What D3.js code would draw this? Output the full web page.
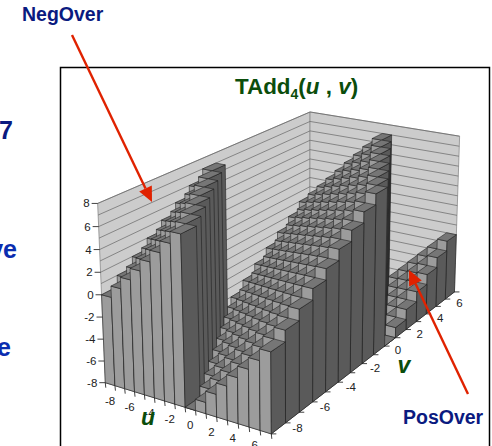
<!DOCTYPE html>
<html><head><meta charset="utf-8">
<script src="https://cdn.jsdelivr.net/npm/d3@7"></script>
<style>html,body{margin:0;padding:0;background:#fff;overflow:hidden}svg{display:block}text{font-family:"Liberation Sans",Arial,sans-serif}</style>
</head><body><div id="c"></div>
<script>
const uCategories=[-8,-7,-6,-5,-4,-3,-2,-1,0,1,2,3,4,5,6,7];
const vCategories=[-8,-7,-6,-5,-4,-3,-2,-1,0,1,2,3,4,5,6,7];
const tadd=[
[0,1,2,3,4,5,6,7,-8,-7,-6,-5,-4,-3,-2,-1],
[1,2,3,4,5,6,7,-8,-7,-6,-5,-4,-3,-2,-1,0],
[2,3,4,5,6,7,-8,-7,-6,-5,-4,-3,-2,-1,0,1],
[3,4,5,6,7,-8,-7,-6,-5,-4,-3,-2,-1,0,1,2],
[4,5,6,7,-8,-7,-6,-5,-4,-3,-2,-1,0,1,2,3],
[5,6,7,-8,-7,-6,-5,-4,-3,-2,-1,0,1,2,3,4],
[6,7,-8,-7,-6,-5,-4,-3,-2,-1,0,1,2,3,4,5],
[7,-8,-7,-6,-5,-4,-3,-2,-1,0,1,2,3,4,5,6],
[-8,-7,-6,-5,-4,-3,-2,-1,0,1,2,3,4,5,6,7],
[-7,-6,-5,-4,-3,-2,-1,0,1,2,3,4,5,6,7,-8],
[-6,-5,-4,-3,-2,-1,0,1,2,3,4,5,6,7,-8,-7],
[-5,-4,-3,-2,-1,0,1,2,3,4,5,6,7,-8,-7,-6],
[-4,-3,-2,-1,0,1,2,3,4,5,6,7,-8,-7,-6,-5],
[-3,-2,-1,0,1,2,3,4,5,6,7,-8,-7,-6,-5,-4],
[-2,-1,0,1,2,3,4,5,6,7,-8,-7,-6,-5,-4,-3],
[-1,0,1,2,3,4,5,6,7,-8,-7,-6,-5,-4,-3,-2]];
const zTicks=[-8,-6,-4,-2,0,2,4,6,8];
const uTickLabels=[-8,-6,-4,-2,0,2,4,6];
const vTickLabels=[-8,-6,-4,-2,0,2,4,6];
const title="TAdd";

const W=492,H=446;
const svg=d3.select("#c").append("svg").attr("width",W).attr("height",H);
const navy="#0a1a80",green="#0b4d0b",red="#e02200";

// camera calibration: cube points -> page pixels (least-squares projective fit)
const calib=[
[[-8,-8,-8],[106,382]],[[8,-8,-8],[271,434]],[[8,8,-8],[456,292]],[[-8,-8,8],[97,203]],
[[8,8,8],[459,136]],[[-8,8,8],[310,112]],[[8,-8,-1],[270,351]],[[0,-8,-8],[185,408]],
[[0,-8,7],[182,235]],[[8,1,-8],[384,346]],[[8,1,7],[389,187]],[[-8,-8,0],[101,295]],[[8,8,-2],[455,235]]];
const sU=d3.scaleLinear([-8,8],[0,1]),sV=d3.scaleLinear([-8,8],[0,1]),sZ=d3.scaleLinear([-8,8],[0,1]);
function fit(){
  const A=[],b=[];
  calib.forEach(([p,q])=>{
    const x=sU(p[0]),y=sV(p[1]),z=sZ(p[2]),X=q[0]/500,Y=q[1]/500;
    A.push([x,y,z,1,0,0,0,0,-X*x,-X*y,-X*z]);b.push(X);
    A.push([0,0,0,0,x,y,z,1,-Y*x,-Y*y,-Y*z]);b.push(Y);
  });
  const n=11,M=d3.range(n).map(i=>d3.range(n+1).map(j=>{
    let s=0;A.forEach((r,k)=>{s+=r[i]*(j<n?r[j]:b[k]);});return s;}));
  for(let i=0;i<n;i++){
    let p=i;for(let r=i+1;r<n;r++)if(Math.abs(M[r][i])>Math.abs(M[p][i]))p=r;
    [M[i],M[p]]=[M[p],M[i]];
    for(let r=0;r<n;r++){if(r===i)continue;const f=M[r][i]/M[i][i];for(let c=i;c<=n;c++)M[r][c]-=f*M[i][c];}
  }
  return d3.range(n).map(i=>M[i][n]/M[i][i]);
}
const h=fit();
function P(u,v,z){
  const x=sU(u),y=sV(v),c=sZ(z),w=h[8]*x+h[9]*y+h[10]*c+1;
  return [500*(h[0]*x+h[1]*y+h[2]*c+h[3])/w,500*(h[4]*x+h[5]*y+h[6]*c+h[7])/w];
}
const poly=pts=>"M"+pts.map(p=>p[0].toFixed(2)+","+p[1].toFixed(2)).join("L")+"Z";
const line=(a,b)=>"M"+a[0].toFixed(2)+","+a[1].toFixed(2)+"L"+b[0].toFixed(2)+","+b[1].toFixed(2);

// clipped slide text behind the chart
const side=[["7",13,139,navy],["ve",17,258,"#0a2db0"],["e",11,356,"#0a2db0"]];
svg.selectAll("text.side").data(side).join("text").attr("class","side")
 .attr("x",d=>d[1]).attr("y",d=>d[2]).attr("text-anchor","end").attr("font-size",25).attr("font-weight","bold").attr("fill",d=>d[3]).text(d=>d[0]);
svg.append("text").attr("x",22).attr("y",21).attr("font-size",19.5).attr("font-weight","bold").attr("fill",navy).text("NegOver");

// frame
svg.append("rect").attr("x",60.5).attr("y",67.5).attr("width",429).attr("height",400).attr("fill","#fff").attr("stroke","#000").attr("stroke-width",1.5);

// title
const t=svg.append("text").attr("x",235).attr("y",94).attr("font-size",22.4).attr("font-weight","bold").attr("fill",green);
t.append("tspan").text(title);
t.append("tspan").attr("font-size",14).attr("dy",5).text("4");
t.append("tspan").attr("dy",-5).text("(");
t.append("tspan").attr("font-style","italic").text("u");
t.append("tspan").text(" , ");
t.append("tspan").attr("font-style","italic").text("v");
t.append("tspan").text(")");

// walls and floor
const walls=svg.append("g");
const wallFill="#cccccc",wallStroke="#8a8a8a";
walls.append("path").attr("d",poly([P(-8,-8,-8),P(-8,8,-8),P(-8,8,8),P(-8,-8,8)])).attr("fill",wallFill).attr("stroke",wallStroke).attr("stroke-width",.8);
walls.append("path").attr("d",poly([P(-8,8,-8),P(8,8,-8),P(8,8,8),P(-8,8,8)])).attr("fill",wallFill).attr("stroke",wallStroke).attr("stroke-width",.8);
walls.append("path").attr("d",poly([P(-8,-8,-8),P(8,-8,-8),P(8,8,-8),P(-8,8,-8)])).attr("fill","#999").attr("stroke","#222").attr("stroke-width",.6);
const gridZ=d3.range(-8,9,1);
walls.selectAll("path.g").data(gridZ).join("path").attr("class","g")
 .attr("d",z=>line(P(-8,-8,z),P(-8,8,z))+line(P(-8,8,z),P(8,8,z))).attr("fill","none").attr("stroke","#666").attr("stroke-width",.7);

// axes ticks and labels
const ax=svg.append("g").attr("fill","#222").attr("font-size",11.5);
ax.selectAll("path.zt").data(zTicks).join("path").attr("class","zt")
 .attr("d",z=>{const p=P(-8,-8,z);return line([p[0]-6,p[1]],p);}).attr("stroke","#111").attr("stroke-width",.8);
ax.selectAll("text.zl").data(zTicks).join("text").attr("class","zl")
 .attr("x",z=>P(-8,-8,z)[0]-8).attr("y",z=>P(-8,-8,z)[1]+4).attr("text-anchor","end").text(d=>d);
ax.selectAll("path.ut").data(d3.range(-8,9)).join("path").attr("class","ut")
 .attr("d",u=>{const p=P(u,-8,-8);return line(p,[p[0]+.5,p[1]+5]);}).attr("stroke","#111").attr("stroke-width",.8);
ax.selectAll("text.ul").data(uTickLabels).join("text").attr("class","ul")
 .attr("x",u=>P(u+.5,-8,-8)[0]).attr("y",u=>P(u+.5,-8,-8)[1]+20.5).attr("text-anchor","middle").text(d=>d);
ax.selectAll("path.vt").data(d3.range(-8,9)).join("path").attr("class","vt")
 .attr("d",v=>{const p=P(8,v,-8);return line(p,[p[0]+5,p[1]]);}).attr("stroke","#111").attr("stroke-width",.8);
ax.selectAll("text.vl").data(vTickLabels).join("text").attr("class","vl")
 .attr("x",v=>P(8,v+.5,-8)[0]+19).attr("y",v=>P(8,v+.5,-8)[1]+4).attr("text-anchor","middle").text(d=>d);

// bars, painted back to front
const cells=[];
uCategories.forEach((u,i)=>{ [...vCategories].reverse().forEach(v=>{ cells.push({u,v,z:tadd[i][vCategories.indexOf(v)]}); }); });
const g=svg.append("g").attr("stroke","#1a1a1a").attr("stroke-width",.55).attr("stroke-linejoin","round");
const bars=g.selectAll("g").data(cells).join("g");
const base=-8;
bars.append("path").attr("fill","#9c9c9c").attr("d",d=>poly([P(d.u,d.v,base),P(d.u+1,d.v,base),P(d.u+1,d.v,d.z),P(d.u,d.v,d.z)]));
bars.append("path").attr("fill","#5a5a5a").attr("d",d=>poly([P(d.u+1,d.v,base),P(d.u+1,d.v+1,base),P(d.u+1,d.v+1,d.z),P(d.u+1,d.v,d.z)]));
bars.append("path").attr("fill","#767676").attr("d",d=>poly([P(d.u,d.v,d.z),P(d.u+1,d.v,d.z),P(d.u+1,d.v+1,d.z),P(d.u,d.v+1,d.z)]));

// axis titles
svg.append("text").attr("x",148).attr("y",425).attr("text-anchor","middle").attr("font-size",23).attr("font-weight","bold").attr("font-style","italic").attr("fill",green).text("u");
svg.append("text").attr("x",404).attr("y",373).attr("text-anchor","middle").attr("font-size",23).attr("font-weight","bold").attr("font-style","italic").attr("fill",green).text("v");

svg.append("text").attr("x",403).attr("y",424).attr("font-size",19.5).attr("font-weight","bold").attr("fill",navy).text("PosOver");

// arrows
function arrow(a,b){
  const dx=b[0]-a[0],dy=b[1]-a[1],L=Math.hypot(dx,dy),ux=dx/L,uy=dy/L,hl=15,hw=7;
  const n=[b[0]-ux*hl,b[1]-uy*hl];
  svg.append("path").attr("d",line(a,n)).attr("stroke",red).attr("stroke-width",2.4).attr("fill","none");
  svg.append("path").attr("d",poly([b,[n[0]-uy*hw,n[1]+ux*hw],[n[0]+uy*hw,n[1]-ux*hw]])).attr("fill",red);
}
arrow([72,35],[152,202]);
arrow([468,394],[409,270]);
</script></body></html>
